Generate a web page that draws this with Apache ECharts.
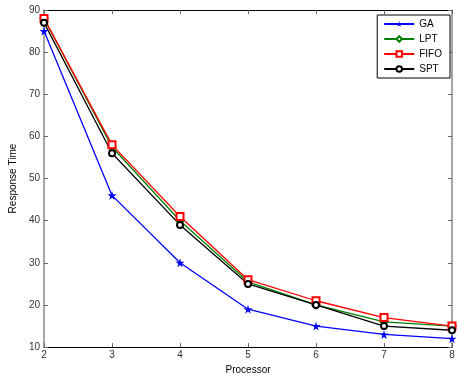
<!DOCTYPE html>
<html>
<head>
<meta charset="utf-8">
<script src="https://cdn.jsdelivr.net/npm/echarts@6/dist/echarts.min.js"></script>
<style>
  html, body { margin: 0; padding: 0; background: #fff; }
  #chart { width: 458px; height: 380px; }
</style>
</head>
<body>
<div id="chart"></div>
<script>
// data
var processors = [2, 3, 4, 5, 6, 7, 8];
var gaTime   = [85, 46, 30, 19, 15, 13, 12];
var lptTime  = [88, 57.5, 40, 25.5, 20, 16, 15];
var fifoTime = [88, 58, 41, 26, 21, 17, 15];
var sptTime  = [87, 56, 39, 25, 20, 15, 14];

var starPath = 'path://M50,0 L61,35 L98,35 L68,57 L79,91 L50,70 L21,91 L32,57 L2,35 L39,35 Z';

function pairs(ys) {
  return processors.map(function (x, i) { return [x, ys[i]]; });
}

var chart = echarts.init(document.getElementById('chart'));
var font = 'Liberation Sans, Arial, sans-serif';

var option = {
  animation: false,
  backgroundColor: '#fff',
  textStyle: { fontFamily: font },
  grid: { left: 34, right: 6, top: 10, bottom: 28 },
  legend: {
    orient: 'vertical',
    right: 8,
    top: 15,
    itemWidth: 30,
    itemHeight: 7,
    itemGap: 5,
    padding: [4, 8, 4, 6],
    borderColor: '#000',
    borderWidth: 1,
    backgroundColor: '#fff',
    textStyle: { fontSize: 10, color: '#000', fontFamily: font },
    data: ['GA', 'LPT', 'FIFO', 'SPT']
  },
  xAxis: [{
    type: 'value', min: 2, max: 8, interval: 1,
    name: 'Processor', nameLocation: 'middle', nameGap: 14,
    nameTextStyle: { fontSize: 10, color: '#000' },
    axisLine: { lineStyle: { color: '#000' } },
    axisTick: { inside: true, length: 4, lineStyle: { color: '#666' } },
    axisLabel: { fontSize: 10, color: '#333', margin: 3 },
    splitLine: { show: false }
  }, {
    type: 'value', min: 2, max: 8, interval: 1, position: 'top',
    axisLine: { lineStyle: { color: '#000' } },
    axisTick: { inside: true, length: 4, lineStyle: { color: '#666' } },
    axisLabel: { show: false },
    splitLine: { show: false }
  }],
  yAxis: [{
    type: 'value', min: 10, max: 90, interval: 10,
    name: 'Response Time', nameLocation: 'middle', nameGap: 24,
    nameTextStyle: { fontSize: 10, color: '#000' },
    axisLine: { show: true, lineStyle: { color: '#888', width: 1.5 } },
    axisTick: { show: true, inside: true, length: 4, lineStyle: { color: '#666' } },
    axisLabel: { fontSize: 10, color: '#333', margin: 4 },
    splitLine: { show: false }
  }, {
    type: 'value', min: 10, max: 90, interval: 10, position: 'right',
    axisLine: { show: true, lineStyle: { color: '#888', width: 1.5 } },
    axisTick: { show: true, inside: true, length: 4, lineStyle: { color: '#666' } },
    axisLabel: { show: false },
    splitLine: { show: false }
  }],
  series: [
    {
      name: 'GA', type: 'line', data: pairs(gaTime),
      symbol: starPath, symbolSize: 9,
      itemStyle: { color: '#0000ff' },
      lineStyle: { color: '#0000ff', width: 1.3 }
    },
    {
      name: 'LPT', type: 'line', data: pairs(lptTime),
      symbol: 'emptyDiamond', symbolSize: 7,
      itemStyle: { color: '#008000', borderWidth: 1 },
      lineStyle: { color: '#008000', width: 1.3 }
    },
    {
      name: 'FIFO', type: 'line', data: pairs(fifoTime),
      symbol: 'emptyRect', symbolSize: 7,
      itemStyle: { color: '#ff0000', borderWidth: 1 },
      lineStyle: { color: '#ff0000', width: 1.3 }
    },
    {
      name: 'SPT', type: 'line', data: pairs(sptTime),
      symbol: 'emptyCircle', symbolSize: 6,
      itemStyle: { color: '#000', borderWidth: 1 },
      lineStyle: { color: '#000', width: 1.3 }
    }
  ]
};

chart.setOption(option);
</script>
</body>
</html>
